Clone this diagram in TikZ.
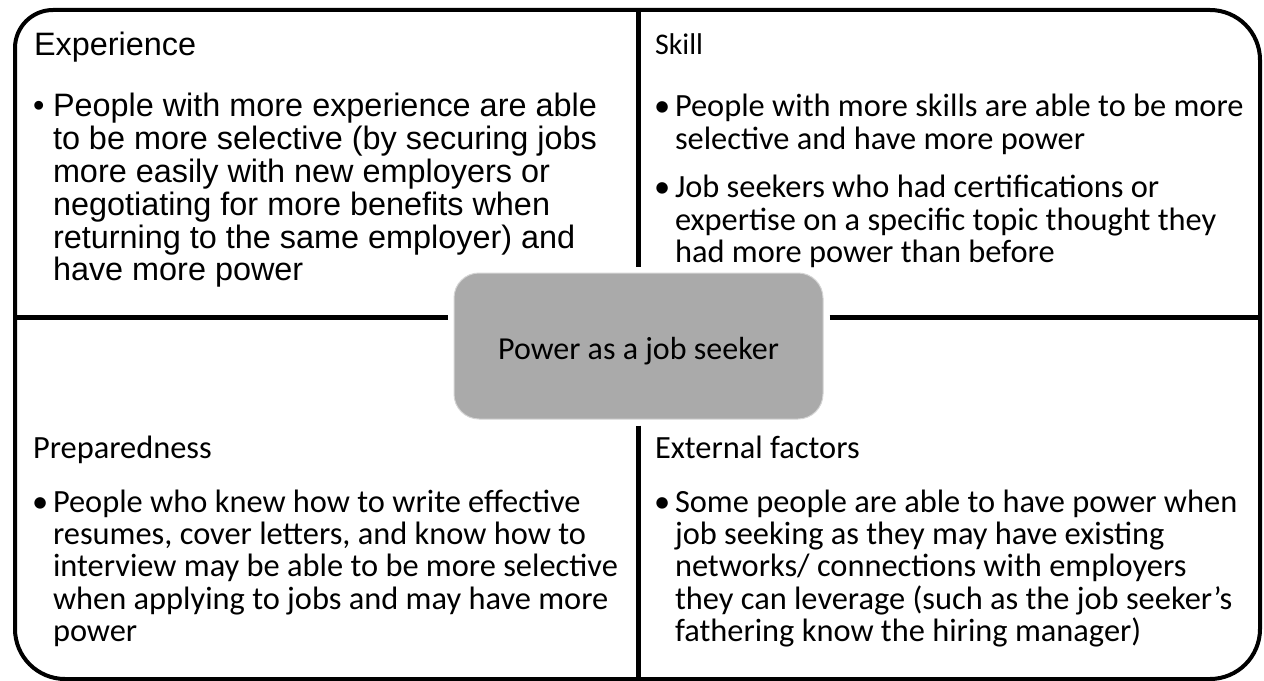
\documentclass[tikz,border=0pt]{standalone}
\usepackage{fontspec}
\newfontfamily\arialf{Liberation Sans}
\newfontfamily\calf{Carlito}
\definecolor{hubgray}{HTML}{AAAAAA}
\definecolor{hubedge}{HTML}{D4D4D4}
\begin{document}
\begin{tikzpicture}[x=0.75pt,y=0.75pt,
  frame/.style={line width=3pt, line join=round},
  divider/.style={line width=3.75pt},
  txt/.style={anchor=base west, inner sep=0pt, outer sep=0pt},
  ar/.style={font=\arialf\fontsize{24.3}{24.6}\selectfont},
  ca/.style={font=\calf\fontsize{24.3}{24.3}\selectfont},
  casmall/.style={font=\calf\fontsize{22.5}{24}\selectfont},
  hub/.style={rounded corners=18.75pt, fill=hubgray, draw=hubedge, line width=0.75pt,
    minimum width=276.75pt, minimum height=109.5pt, inner sep=0pt,
    text height=19.5pt, text depth=0pt,
    font=\calf\fontsize{24}{28}\selectfont}]
\useasboundingbox (0,0) rectangle (1264,-681);

% outer frame
\draw[frame] (53,-10) -- (1210,-10) arc[start angle=90,end angle=0,radius=37.5pt]
  -- (1260,-629) arc[start angle=0,end angle=-90,radius=37.5pt]
  -- (65,-679) arc[start angle=270,end angle=180,radius=37.5pt]
  -- (15,-48) arc[start angle=180,end angle=90,radius=28.5pt] -- cycle;

% centre
\node[hub] (hub) at (638.5,-346) {Power as a job seeker};

% dividers
\coordinate (vt) at (638.5,-10);
\coordinate (vb) at (638.5,-679);
\coordinate (hl) at (15,-317);
\coordinate (hr) at (1260,-317);
\draw[divider] (vt) -- ([yshift=4.5pt]hub.north);
\draw[divider] ([yshift=-4.5pt]hub.south) -- (vb);
\draw[divider] (hl) -- ([xshift=-4.5pt]hub.west |- hl);
\draw[divider] ([xshift=4.5pt]hub.east |- hr) -- (hr);

% top left
\node[txt, ar] (exptitle) at (34,-56) {Experience};
\node[txt, ar] (expb1) at (33,-117) {•};
\node[txt, ar] (expt1) at (53,-117) {\vtop{%
  \hbox{People with more experience are able}
  \hbox{to be more selective (by securing jobs}
  \hbox{more easily with new employers or}
  \hbox{negotiating for more benefits when}
  \hbox{returning to the same employer) and}
  \hbox{have more power}}};

% top right
\node[txt, casmall] (skilltitle) at (655,-55) {Skill};
\node[txt, ca] (skillb1) at (654,-117) {•};
\node[txt, ca] (skillt1) at (675,-117) {\vtop{%
  \hbox{People with more skills are able to be more}
  \hbox{selective and have more power}}};
\node[txt, ca] (skillb2) at (654,-198) {•};
\node[txt, ca] (skillt2) at (675,-198) {\vtop{%
  \hbox{Job seekers who had certifications or}
  \hbox{expertise on a specific topic thought they}
  \hbox{had more power than before}}};

% bottom left
\node[txt, ca] (preptitle) at (33,-458) {Preparedness};
\node[txt, ca] (prepb1) at (32,-512) {•};
\node[txt, ca] (prept1) at (53,-512) {\vtop{%
  \hbox{People who knew how to write effective}
  \hbox{resumes, cover letters, and know how to}
  \hbox{interview may be able to be more selective}
  \hbox{when applying to jobs and may have more}
  \hbox{power}}};

% bottom right
\node[txt, ca] (exttitle) at (655,-458) {External factors};
\node[txt, ca] (extb1) at (654,-512) {•};
\node[txt, ca] (extt1) at (675,-512) {\vtop{%
  \hbox{Some people are able to have power when}
  \hbox{job seeking as they may have existing}
  \hbox{networks/ connections with employers}
  \hbox{they can leverage (such as the job seeker’s}
  \hbox{fathering know the hiring manager)}}};
\end{tikzpicture}
\end{document}
